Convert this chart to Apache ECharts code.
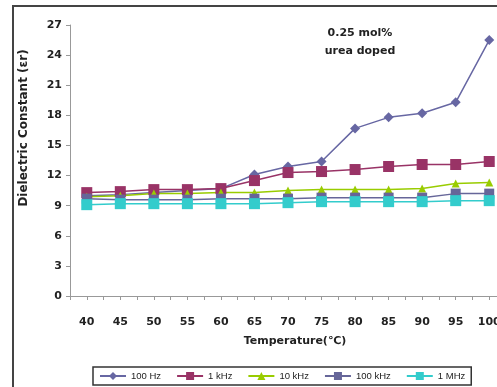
<!DOCTYPE html>
<html>
<head>
<meta charset="utf-8">
<script src="https://cdn.jsdelivr.net/npm/echarts@6/dist/echarts.min.js"></script>
<style>
  html, body { margin: 0; padding: 0; background: #fff; }
  #chart { width: 497px; height: 387px; }
</style>
</head>
<body>
<div id="chart"></div>
<script>
const temps = [40, 45, 50, 55, 60, 65, 70, 75, 80, 85, 90, 95, 100];
const hz100 = [10.0, 10.1, 10.3, 10.5, 10.7, 12.1, 12.9, 13.4, 16.7, 17.8, 18.2, 19.3, 25.5];
const khz1 = [10.3, 10.4, 10.6, 10.6, 10.7, 11.5, 12.3, 12.4, 12.6, 12.9, 13.1, 13.1, 13.4];
const khz10 = [9.9, 10.0, 10.2, 10.2, 10.3, 10.3, 10.5, 10.6, 10.6, 10.6, 10.7, 11.2, 11.3];
const khz100 = [9.7, 9.6, 9.6, 9.6, 9.7, 9.7, 9.7, 9.8, 9.8, 9.8, 9.8, 10.2, 10.2];
const mhz1 = [9.1, 9.2, 9.2, 9.2, 9.2, 9.2, 9.3, 9.4, 9.4, 9.4, 9.4, 9.5, 9.5];

const font = "DejaVu Sans";
const pair = (arr) => temps.map((t, i) => [t, arr[i]]);

function makeSeries(name, data, color, symbol, size) {
  return {
    name: name,
    type: "line",
    data: pair(data),
    symbol: symbol,
    symbolSize: size,
    itemStyle: { color: color },
    lineStyle: { color: color, width: 1.5 },
  };
}

const chart = echarts.init(document.getElementById("chart"));
chart.setOption({
  animation: false,
  textStyle: { fontFamily: font },
  grid: { left: 70, top: 25, width: 436, height: 271, outerBoundsMode: "none", containLabel: false },
  graphic: [
    {
      type: "rect",
      shape: { x: 13, y: 6, width: 520, height: 420 },
      style: { fill: "none", stroke: "#444", lineWidth: 2 },
    },
    {
      type: "text",
      x: 24,
      y: 128,
      rotation: Math.PI / 2,
      style: {
        text: "Dielectric Constant (εr)",
        font: "bold 12px " + font,
        fill: "#222",
        textAlign: "center",
        textVerticalAlign: "middle",
      },
    },
    {
      type: "text",
      x: 360,
      y: 42,
      style: {
        text: "0.25 mol%\nurea doped",
        font: "bold 11px " + font,
        fill: "#222",
        textAlign: "center",
        textVerticalAlign: "middle",
        lineHeight: 18,
      },
    },
  ],
  legend: {
    left: 93,
    top: 367,
    width: 400,
    padding: [4, 6],
    borderColor: "#333",
    borderWidth: 1.5,
    itemWidth: 26,
    itemHeight: 10,
    itemGap: 15,
    textStyle: { fontSize: 9.5, color: "#222", fontFamily: "Liberation Sans" },
    data: ["100 Hz", "1 kHz", "10 kHz", "100 kHz", "1 MHz"],
  },
  xAxis: {
    type: "value",
    min: 37.5,
    max: 102.5,
    interval: 2.5,
    name: "Temperature(℃)",
    nameLocation: "middle",
    nameGap: 40,
    nameTextStyle: { fontSize: 11, fontWeight: "bold", color: "#222", padding: [0, 0, 0, 14] },
    axisLine: { lineStyle: { color: "#999" } },
    axisTick: { length: 4, lineStyle: { color: "#999" } },
    splitLine: { show: false },
    axisLabel: {
      margin: 21,
      fontSize: 11,
      fontWeight: "bold",
      color: "#222",
      showMinLabel: true,
      showMaxLabel: true,
      formatter: (v) => (v % 5 === 0 ? String(v) : ""),
    },
  },
  yAxis: {
    type: "value",
    min: 0,
    max: 27,
    interval: 3,
    axisLine: { show: true, lineStyle: { color: "#999" } },
    axisTick: { show: true, length: 4, lineStyle: { color: "#999" } },
    splitLine: { show: false },
    axisLabel: { margin: 8, fontSize: 11, fontWeight: "bold", color: "#222" },
  },
  series: [
    makeSeries("100 Hz", hz100, "#6767a3", "diamond", 10),
    makeSeries("1 kHz", khz1, "#993366", "rect", 11),
    makeSeries("10 kHz", khz10, "#99cc00", "triangle", 8),
    makeSeries("100 kHz", khz100, "#666699", "rect", 10),
    makeSeries("1 MHz", mhz1, "#33cccc", "rect", 11),
  ],
});
</script>
</body>
</html>
